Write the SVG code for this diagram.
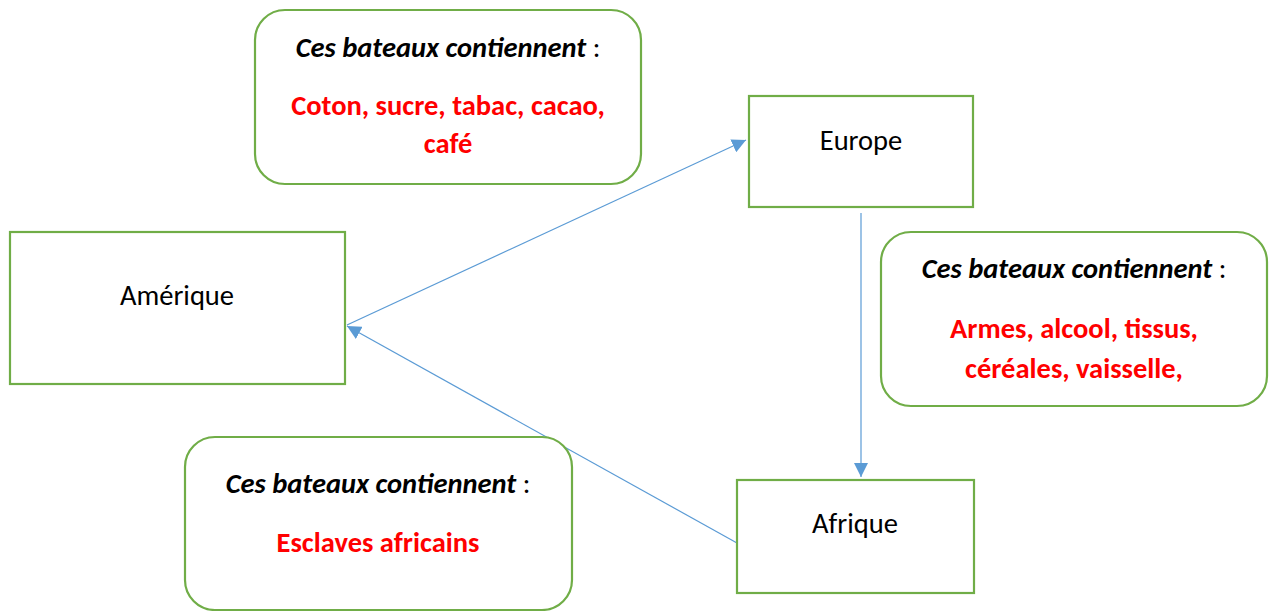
<svg xmlns="http://www.w3.org/2000/svg" width="1275" height="611" viewBox="0 0 1275 611">
<style>
.box{fill:#fff;stroke:#70AD47;stroke-width:2.2}
.lbl{font-family:Carlito,Lato,"Liberation Sans",sans-serif;font-size:28.5px;fill:#000;text-anchor:middle}
.h{font-family:Carlito,Lato,"Liberation Sans",sans-serif;font-size:28.5px;fill:#000;text-anchor:middle}
.h tspan.i{font-style:italic;font-weight:bold}
.r{font-family:Carlito,Lato,"Liberation Sans",sans-serif;font-size:28.5px;font-weight:bold;fill:#FF0000;text-anchor:middle}
.con{stroke:#5B9BD5;stroke-width:1.2;fill:none;marker-end:url(#ah)}
</style>
<defs>
<marker id="ah" viewBox="0 0 10 10" refX="10" refY="5" markerWidth="14" markerHeight="14" markerUnits="userSpaceOnUse" orient="auto">
<path d="M0,0 L10,5 L0,10 z" fill="#5B9BD5"/>
</marker>
</defs>
<rect width="1275" height="611" fill="#fff"/>
<g id="connectors">
<line class="con" x1="347" y1="325" x2="746" y2="140"/>
<line class="con" x1="861" y1="213" x2="861" y2="477"/>
<line class="con" x1="737" y1="543" x2="347" y2="326"/>
</g>
<g id="callout-top">
<rect class="box" x="255" y="10" width="386" height="174" rx="30"/>
<text class="h" x="448" y="57"><tspan class="i">Ces bateaux contiennent</tspan> :</text>
<text class="r" x="448" y="115">Coton, sucre, tabac, cacao,</text>
<text class="r" x="448" y="153">café</text>
</g>
<g id="europe">
<rect class="box" x="749" y="96" width="224" height="111"/>
<text class="lbl" x="861" y="150">Europe</text>
</g>
<g id="callout-right">
<rect class="box" x="881" y="232" width="386" height="174" rx="30"/>
<text class="h" x="1074" y="278"><tspan class="i">Ces bateaux contiennent</tspan> :</text>
<text class="r" x="1074" y="338">Armes, alcool, tissus,</text>
<text class="r" x="1074" y="378">céréales, vaisselle,</text>
</g>
<g id="amerique">
<rect class="box" x="10" y="232" width="335" height="152"/>
<text class="lbl" x="177" y="305">Amérique</text>
</g>
<g id="afrique">
<rect class="box" x="737" y="480" width="237" height="113"/>
<text class="lbl" x="855" y="533">Afrique</text>
</g>
<g id="callout-bottom">
<rect class="box" x="185" y="437" width="387" height="173" rx="30"/>
<text class="h" x="378" y="493"><tspan class="i">Ces bateaux contiennent</tspan> :</text>
<text class="r" x="378" y="552">Esclaves africains</text>
</g>
</svg>
